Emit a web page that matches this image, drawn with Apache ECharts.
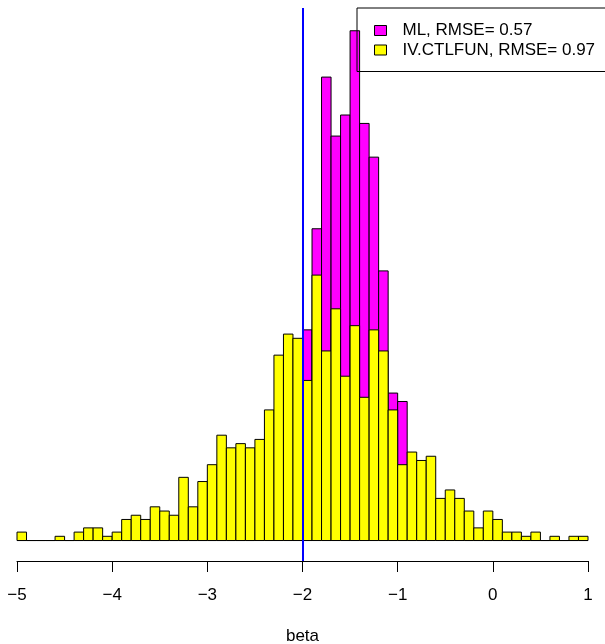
<!DOCTYPE html>
<html>
<head>
<meta charset="utf-8">
<script src="https://cdn.jsdelivr.net/npm/echarts@6/dist/echarts.min.js"></script>
<style>
  html, body { margin: 0; padding: 0; background: #fff; }
  #main { width: 605px; height: 644px; }
</style>
</head>
<body>
<div id="main"></div>
<script>
// histogram breaks (left edges of the 0.1 wide bins)
var binLeft = [
  -5.0, -4.9, -4.8, -4.7, -4.6, -4.5, -4.4, -4.3, -4.2, -4.1,
  -4.0, -3.9, -3.8, -3.7, -3.6, -3.5, -3.4, -3.3, -3.2, -3.1,
  -3.0, -2.9, -2.8, -2.7, -2.6, -2.5, -2.4, -2.3, -2.2, -2.1,
  -2.0, -1.9, -1.8, -1.7, -1.6, -1.5, -1.4, -1.3, -1.2, -1.1,
  -1.0, -0.9, -0.8, -0.7, -0.6, -0.5, -0.4, -0.3, -0.2, -0.1,
   0.0,  0.1,  0.2,  0.3,  0.4,  0.5,  0.6,  0.7,  0.8,  0.9
];
var binWidth = 0.1;

var mlCounts = [
  0, 0, 0, 0, 0, 0, 0, 0, 0, 0,
  0, 0, 0, 0, 0, 0, 0, 0, 0, 0,
  0, 0, 0, 0, 0, 2, 3, 8, 15, 28,
  50, 74, 110, 96, 101, 121, 99, 91, 64, 35,
  33, 18, 12, 7, 4, 2, 1, 0, 0, 0,
  0, 0, 0, 0, 0, 0, 0, 0, 0, 0
];

var ivCounts = [
  2, 0, 0, 0, 1, 0, 2, 3, 3, 1,
  2, 5, 6, 5, 8, 7, 6, 15, 8, 14,
  18, 25, 22, 23, 22, 24, 31, 44, 49, 48,
  38, 63, 45, 55, 39, 51, 34, 50, 45, 31,
  18, 21, 19, 20, 10, 12, 10, 7, 3, 7,
  5, 2, 2, 1, 2, 0, 1, 0, 1, 1
];

var xTicks = [-5, -4, -3, -2, -1, 0, 1];
var trueBeta = -2;
var names = ['ML, RMSE= 0.57', 'IV.CTLFUN, RMSE= 0.97'];

function toRows(counts) {
  return counts.map(function (c, i) {
    return [binLeft[i], binLeft[i] + binWidth, c];
  });
}

function renderBar(params, api) {
  var p0 = api.coord([api.value(0), api.value(2)]);
  var p1 = api.coord([api.value(1), 0]);
  return {
    type: 'rect',
    shape: { x: p0[0], y: p0[1], width: p1[0] - p0[0], height: p1[1] - p0[1] },
    style: api.style()
  };
}

var font = 'Liberation Sans';
var myChart = echarts.init(document.getElementById('main'));
myChart.setOption({
  animation: false,
  backgroundColor: '#fff',
  textStyle: { fontFamily: font },
  grid: { left: 17, right: 17, top: 8, bottom: 83, outerBoundsMode: 'none', containLabel: false },
  legend: {
    data: names,
    orient: 'vertical',
    left: 357,
    top: 8,
    padding: [14, 30, 13, 17],
    itemGap: 2.5,
    itemWidth: 12,
    itemHeight: 10,
    icon: 'rect',
    borderColor: '#000',
    borderWidth: 1,
    borderRadius: 0,
    selectedMode: false,
    itemStyle: { borderColor: '#000', borderWidth: 1 },
    textStyle: { fontFamily: font, fontSize: 17, color: '#000', padding: [0, 0, 0, 11] }
  },
  xAxis: {
    type: 'value',
    min: -5,
    max: 1,
    interval: 1,
    name: 'beta',
    nameLocation: 'middle',
    nameGap: 67,
    nameTextStyle: { fontFamily: font, fontSize: 17, color: '#000' },
    splitLine: { show: false },
    axisLine: { show: true, onZero: false, lineStyle: { color: '#000', width: 1 } },
    axisTick: { show: true, length: 11, lineStyle: { color: '#000', width: 1 } },
    axisLabel: {
      margin: 26,
      fontFamily: font,
      fontSize: 17,
      color: '#000',
      formatter: function (v) { return String(v).replace('-', '\u2212'); }
    }
  },
  yAxis: {
    type: 'value',
    min: -4.86,
    max: 126.4,
    show: false,
    splitLine: { show: false }
  },
  series: [
    {
      name: names[0],
      type: 'custom',
      renderItem: renderBar,
      encode: { x: [0, 1], y: 2 },
      itemStyle: { color: '#FF00FF', borderColor: '#000', borderWidth: 1 },
      data: toRows(mlCounts),
      z: 2
    },
    {
      name: names[1],
      type: 'custom',
      renderItem: renderBar,
      encode: { x: [0, 1], y: 2 },
      itemStyle: { color: '#FFFF00', borderColor: '#000', borderWidth: 1 },
      data: toRows(ivCounts),
      z: 3,
      markLine: {
        silent: true,
        symbol: ['none', 'none'],
        label: { show: false },
        lineStyle: { color: '#0000FF', width: 2, type: 'solid' },
        data: [{ xAxis: trueBeta }],
        z: 5
      }
    }
  ]
});
</script>
</body>
</html>
